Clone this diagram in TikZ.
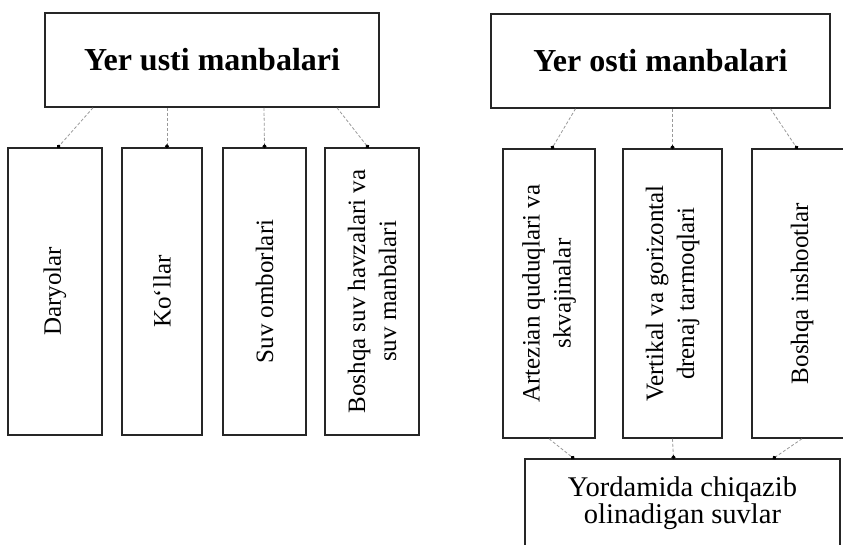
\documentclass[tikz,border=0pt]{standalone}
\usepackage{fontspec}
\setmainfont{Liberation Serif}
\usetikzlibrary{arrows.meta}
\begin{document}
\begin{tikzpicture}[x=1pt,y=-1pt,
  box/.style={draw=black!85, line width=1.5pt, inner sep=0pt, fill=white},
  vlabel/.style={rotate=90, align=center, inner sep=0pt, font=\fontsize{25}{31}\selectfont},
  title/.style={box, font=\fontsize{32}{38}\selectfont\bfseries},
  conn/.style={draw=black!40, line width=0.8pt, densely dashed, -{Circle[length=4pt, black, sep=-1pt]}}]
\useasboundingbox (0,0) rectangle (843,544);
\clip (0,0) rectangle (843,544);
\fill[white] (0,0) rectangle (843,544);
% top boxes
\node[title, minimum width=334pt, minimum height=94pt] (t1) at (212,60) {Yer usti manbalari};
\node[title, minimum width=339pt, minimum height=94pt] (t2) at (660.5,61) {Yer osti manbalari};
% left children
\node[box, minimum width=94pt, minimum height=287pt] (b1) at (55,291.5) {};
\node[box, minimum width=80pt, minimum height=287pt] (b2) at (162,291.5) {};
\node[box, minimum width=83pt, minimum height=287pt] (b3) at (264.5,291.5) {};
\node[box, minimum width=94pt, minimum height=287pt] (b4) at (372,291.5) {};
\node[vlabel] (l1) at (b1.center) {Daryolar};
\node[vlabel] (l2) at (b2.center) {Ko‘llar};
\node[vlabel] (l3) at (b3.center) {Suv omborlari};
\node[vlabel] (l4) at (b4.center) {Boshqa suv havzalari va\\suv manbalari};
% right children
\node[box, minimum width=92pt, minimum height=289pt] (b5) at (549,293.5) {};
\node[box, minimum width=99pt, minimum height=289pt] (b6) at (672.5,293.5) {};
\node[box, minimum width=100pt, minimum height=289pt] (b7) at (802,293.5) {};
\node[vlabel] (l5) at (b5.center) {Artezian quduqlari va\\skvajinalar};
\node[vlabel] (l6) at (b6.center) {Vertikal va gorizontal\\drenaj tarmoqlari};
\node[vlabel] (l7) at (b7.center) {Boshqa inshootlar};
% bottom box
\node[box, minimum width=315pt, minimum height=88pt, align=center,
      font=\fontsize{28.5}{23}\selectfont] (bb) at (682.5,503)
      {Yordamida chiqazib\\olinadigan suvlar};
% connectors
\draw[conn] ([xshift=-119pt]t1.south) -- ([xshift=3pt]b1.north);
\draw[conn] ([xshift=-45pt]t1.south) -- ([xshift=5pt]b2.north);
\draw[conn] ([xshift=52pt]t1.south) -- (b3.north);
\draw[conn] ([xshift=125pt]t1.south) -- ([xshift=-4pt]b4.north);
\draw[conn] ([xshift=-85pt]t2.south) -- ([xshift=3pt]b5.north);
\draw[conn] ([xshift=12pt]t2.south) -- (b6.north);
\draw[conn] ([xshift=110pt]t2.south) -- ([xshift=-5pt]b7.north);
\draw[conn] (b5.south) -- ([xshift=-109pt]bb.north);
\draw[conn] (b6.south) -- ([xshift=-9pt]bb.north);
\draw[conn] (b7.south) -- ([xshift=91pt]bb.north);
\end{tikzpicture}
\end{document}
